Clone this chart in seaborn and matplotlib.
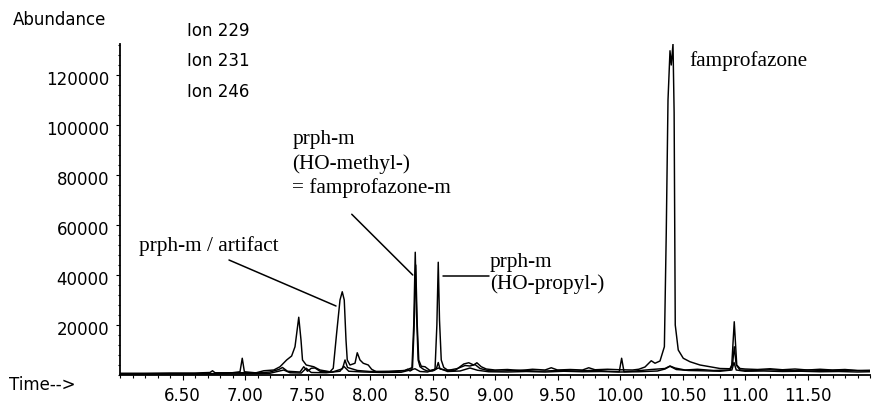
"""
Ion chromatogram (ions 229 / 231 / 246) with famprofazone and its metabolites.

Usage:
    python plot.py   ->  out.png
"""

import matplotlib

matplotlib.use("Agg")

import matplotlib.pyplot as plt
import matplotlib.transforms as mtransforms
import pandas as pd
import seaborn as sns
from matplotlib.ticker import MultipleLocator

# retention time (min) / abundance
ion229_time = [
    6.00, 6.20, 6.40, 6.60, 6.72, 6.74, 6.76, 6.90, 7.00, 7.09,
    7.15, 7.23, 7.28, 7.333, 7.373, 7.40, 7.43, 7.448, 7.46, 7.49,
    7.55, 7.60, 7.68, 7.706, 7.733, 7.76, 7.778, 7.794, 7.808, 7.818,
    7.84, 7.88, 7.898, 7.92, 7.946, 7.986, 8.013, 8.05, 8.10, 8.20,
    8.28, 8.30, 8.32, 8.335, 8.35, 8.362, 8.372, 8.385, 8.40, 8.43,
    8.46, 8.50, 8.52, 8.535, 8.546, 8.556, 8.57, 8.59, 8.62, 8.68,
    8.72, 8.75, 8.79, 8.83, 8.855, 8.89, 8.93, 9.00, 9.10, 9.20,
    9.30, 9.40, 9.45, 9.50, 9.60, 9.70, 9.75, 9.80, 9.90, 10.00,
    10.10, 10.15, 10.20, 10.25, 10.28, 10.32, 10.355, 10.37, 10.384, 10.40,
    10.41, 10.424, 10.433, 10.442, 10.466, 10.506, 10.56, 10.64, 10.72, 10.80,
    10.88, 10.894, 10.914, 10.934, 10.96, 11.00, 11.10, 11.20, 11.30, 11.40,
    11.50, 11.60, 11.70, 11.80, 11.90, 12.00,
]
ion229_abund = [
    700, 700, 800, 800, 1000, 1700, 900, 900, 900, 900,
    1700, 2000, 3300, 6000, 7600, 11300, 23100, 14000, 6000, 4000,
    3300, 2000, 1300, 2700, 16700, 30000, 33300, 30000, 14000, 6000,
    4000, 4700, 8900, 6000, 4700, 4000, 2300, 1300, 1200, 1400,
    1800, 2300, 1600, 2000, 20000, 49100, 25000, 6000, 3300, 2200,
    1600, 1600, 2000, 20000, 45100, 22000, 6000, 3000, 2000, 1800,
    3300, 4400, 4900, 4000, 4900, 3300, 2400, 2000, 2200, 1800,
    2300, 2000, 2900, 2000, 2200, 2000, 2900, 2100, 2300, 2100,
    2000, 2300, 3200, 5700, 4700, 5600, 11300, 56700, 110000, 129700,
    124000, 132400, 105000, 20000, 10000, 6700, 5300, 4000, 3300, 2600,
    2500, 4000, 21300, 4000, 2600, 2400, 2200, 2500, 2100, 2400,
    2000, 2300, 2000, 2200, 1800, 1900,
]

ion231_time = [
    6.00, 6.30, 6.60, 6.85, 6.96, 6.978, 6.995, 7.10, 7.20, 7.27,
    7.30, 7.34, 7.44, 7.47, 7.50, 7.53, 7.56, 7.60, 7.70, 7.78,
    7.80, 7.82, 7.86, 7.90, 8.00, 8.15, 8.28, 8.34, 8.352, 8.366,
    8.378, 8.39, 8.41, 8.44, 8.48, 8.53, 8.546, 8.56, 8.62, 8.70,
    8.76, 8.80, 8.84, 8.88, 8.95, 9.05, 9.20, 9.35, 9.50, 9.65,
    9.80, 9.90, 9.994, 10.013, 10.032, 10.10, 10.25, 10.36, 10.40, 10.44,
    10.52, 10.62, 10.75, 10.88, 10.90, 10.914, 10.93, 10.96, 11.05, 11.20,
    11.35, 11.50, 11.65, 11.80, 12.00,
]
ion231_abund = [
    400, 500, 500, 600, 1300, 6700, 1300, 800, 1200, 2200,
    3000, 1500, 1200, 3300, 1500, 2700, 2800, 1500, 1200, 2500,
    6000, 3000, 2400, 1800, 1400, 1500, 1800, 3000, 18000, 44000,
    20000, 6000, 3500, 3300, 1800, 2400, 5000, 2400, 1800, 2600,
    3800, 3600, 4200, 2600, 1700, 1600, 1900, 1500, 1800, 1600,
    1900, 1500, 1300, 6700, 1300, 1500, 2200, 2600, 3600, 2800,
    2000, 2300, 1800, 2000, 4000, 11300, 4000, 2000, 1800, 2100,
    1700, 2000, 1800, 1900, 1600,
]

ion246_time = [
    6.00, 6.40, 6.80, 7.00, 7.20, 7.31, 7.36, 7.45, 7.49, 7.53,
    7.65, 7.76, 7.79, 7.83, 7.95, 8.10, 8.25, 8.36, 8.40, 8.46,
    8.55, 8.62, 8.72, 8.80, 8.86, 8.95, 9.10, 9.25, 9.40, 9.55,
    9.70, 9.85, 10.00, 10.15, 10.30, 10.36, 10.40, 10.45, 10.55, 10.65,
    10.80, 10.895, 10.912, 10.93, 11.00, 11.15, 11.30, 11.45, 11.60, 11.75,
    11.90, 12.00,
]
ion246_abund = [
    300, 400, 400, 500, 700, 2000, 900, 800, 2700, 1000,
    900, 1500, 3500, 1500, 1200, 1000, 1100, 2500, 1400, 1200,
    2800, 1400, 1600, 2800, 1900, 1300, 1200, 1400, 1200, 1500,
    1300, 1400, 1200, 1300, 1600, 2400, 3500, 2200, 1800, 1700,
    1500, 2000, 5000, 2000, 1500, 1600, 1400, 1500, 1300, 1400,
    1200, 1300,
]

ion_labels = ["Ion 229", "Ion 231", "Ion 246"]

x_ticks = [6.5, 7.0, 7.5, 8.0, 8.5, 9.0, 9.5, 10.0, 10.5, 11.0, 11.5]
x_tick_labels = ["6.50", "7.00", "7.50", "8.00", "8.50", "9.00",
                 "9.50", "10.00", "10.50", "11.00", "11.50"]
y_ticks = [20000, 40000, 60000, 80000, 100000, 120000]
y_tick_labels = ["20000", "40000", "60000", "80000", "100000", "120000"]

W, H = 877, 407
SANS = "DejaVu Sans"
SERIF = "Liberation Serif"


def px(x, y):
    """pixel position (from top-left) -> figure fraction"""
    return x / W, 1 - y / H


def build_frame():
    parts = []
    for name, t, a in [
        (ion_labels[0], ion229_time, ion229_abund),
        (ion_labels[1], ion231_time, ion231_abund),
        (ion_labels[2], ion246_time, ion246_abund),
    ]:
        parts.append(pd.DataFrame({"time": t, "abundance": a, "ion": name}))
    return pd.concat(parts, ignore_index=True)


def main():
    sns.set_theme(style="ticks")
    plt.rcParams["font.family"] = [SANS]
    plt.rcParams["text.color"] = "black"

    df = build_frame()

    fig = plt.figure(figsize=(W / 100, H / 100), dpi=100)
    ax = fig.add_axes([120 / W, (H - 375) / H, 750 / W, 331 / H])

    sns.lineplot(
        data=df, x="time", y="abundance", hue="ion",
        palette=["black"] * 3, estimator=None, legend=False,
        lw=1.05, ax=ax,
    )

    ax.set_xlim(6.0, 12.0)
    ax.set_ylim(0, 132400)
    ax.set_xlabel("")
    ax.set_ylabel("")
    sns.despine(ax=ax)
    for side in ("left", "bottom"):
        ax.spines[side].set_linewidth(1.3)
        ax.spines[side].set_color("black")

    ax.set_xticks(x_ticks, x_tick_labels)
    ax.set_yticks(y_ticks, y_tick_labels)
    ax.xaxis.set_minor_locator(MultipleLocator(0.1))
    ax.yaxis.set_minor_locator(MultipleLocator(4000))
    ax.tick_params(axis="x", which="major", length=3.6, width=0.8, pad=4.8,
                   labelsize=12, color="black", labelcolor="black")
    ax.tick_params(axis="x", which="minor", length=2.2, width=0.8, color="black")
    ax.tick_params(axis="y", which="major", length=3.0, width=0.8, pad=5,
                   labelsize=12, color="black", labelcolor="black")
    ax.tick_params(axis="y", which="minor", length=1.6, width=0.8, color="black")

    # labels in the original sit slightly below their ticks
    shift = mtransforms.ScaledTranslation(0, -3 / 100, fig.dpi_scale_trans)
    for lab in ax.get_yticklabels():
        lab.set_transform(lab.get_transform() + shift)

    # axis captions and ion list
    fig.text(*px(13, 25), "Abundance", fontsize=12, va="baseline", color="black")
    fig.text(*px(9, 390), "Time-->", fontsize=12, va="baseline", color="black")
    for i, name in enumerate(ion_labels):
        fig.text(*px(187, 35.7 + 30.8 * i), name, fontsize=12,
                 va="baseline", color="black")

    # peak annotations
    serif = dict(family=SERIF, fontsize=15.3, va="baseline", color="black")
    ax.text(6.152, 49600, "prph-m / artifact", **serif)
    for txt, yb in [("prph-m", 92400), ("(HO-methyl-)", 82600),
                    ("= famprofazone-m", 72800)]:
        ax.text(7.378, yb, txt, **serif)
    for txt, yb in [("prph-m", 43200), ("(HO-propyl-)", 34600)]:
        ax.text(8.96, yb, txt, **serif)
    ax.text(10.554, 123700, "famprofazone", **serif)

    leader = dict(color="black", lw=1.1)
    ax.plot([6.872, 7.728], [46000, 27600], **leader)
    ax.plot([7.854, 8.342], [64300, 40000], **leader)
    ax.plot([8.586, 8.952], [39700, 39700], **leader)

    fig.savefig("out.png", dpi=100, facecolor="white")
    plt.close(fig)


if __name__ == "__main__":
    main()
